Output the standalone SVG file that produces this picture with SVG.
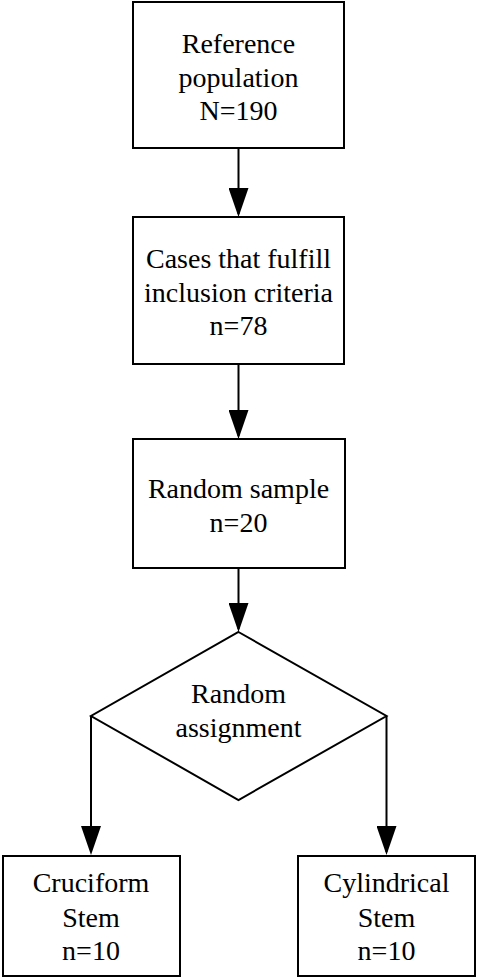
<svg xmlns="http://www.w3.org/2000/svg" width="480" height="978" viewBox="0 0 480 978">
<style>
.box{fill:#fff;stroke:#000;stroke-width:2}
.t{font-family:"Liberation Serif","Times New Roman",serif;font-size:28px;fill:#000;text-anchor:middle}
.c{stroke:#000;stroke-width:2;fill:none;marker-end:url(#ah)}
</style>
<defs>
<marker id="ah" markerWidth="29" markerHeight="20" refX="26" refY="0" orient="auto" markerUnits="userSpaceOnUse" viewBox="0 -10 29 20">
<path d="M0,-10 L29,0 L0,10 Z" fill="#000"/>
</marker>
</defs>
<rect width="480" height="978" fill="#fff"/>
<g id="connectors">
<path class="c" d="M238.5,148 V214"/>
<path class="c" d="M238.5,364 V436"/>
<path class="c" d="M238.5,568 V629"/>
<path class="c" d="M91,716 V852"/>
<path class="c" d="M386.5,716 V852"/>
</g>
<g id="n1">
<rect class="box" x="133" y="2" width="211" height="146"/>
<text class="t" x="238.5" y="53">Reference</text>
<text class="t" x="238.5" y="87">population</text>
<text class="t" x="238.5" y="120">N=190</text>
</g>
<g id="n2">
<rect class="box" x="133" y="217" width="211" height="147"/>
<text class="t" x="238.5" y="268">Cases that fulfill</text>
<text class="t" x="238.5" y="302">inclusion criteria</text>
<text class="t" x="238.5" y="335">n=78</text>
</g>
<g id="n3">
<rect class="box" x="133" y="439" width="212" height="129"/>
<text class="t" x="238.5" y="498">Random sample</text>
<text class="t" x="238.5" y="532">n=20</text>
</g>
<g id="n4">
<path class="box" d="M238.5,632 L386.5,716 L238.5,800 L91,716 Z"/>
<text class="t" x="238.5" y="703">Random</text>
<text class="t" x="238.5" y="737">assignment</text>
</g>
<g id="n5">
<rect class="box" x="3" y="856" width="177" height="120"/>
<text class="t" x="91" y="892">Cruciform</text>
<text class="t" x="91" y="927">Stem</text>
<text class="t" x="91" y="960">n=10</text>
</g>
<g id="n6">
<rect class="box" x="298" y="856" width="177" height="120"/>
<text class="t" x="386.5" y="892">Cylindrical</text>
<text class="t" x="386.5" y="927">Stem</text>
<text class="t" x="386.5" y="960">n=10</text>
</g>
</svg>
